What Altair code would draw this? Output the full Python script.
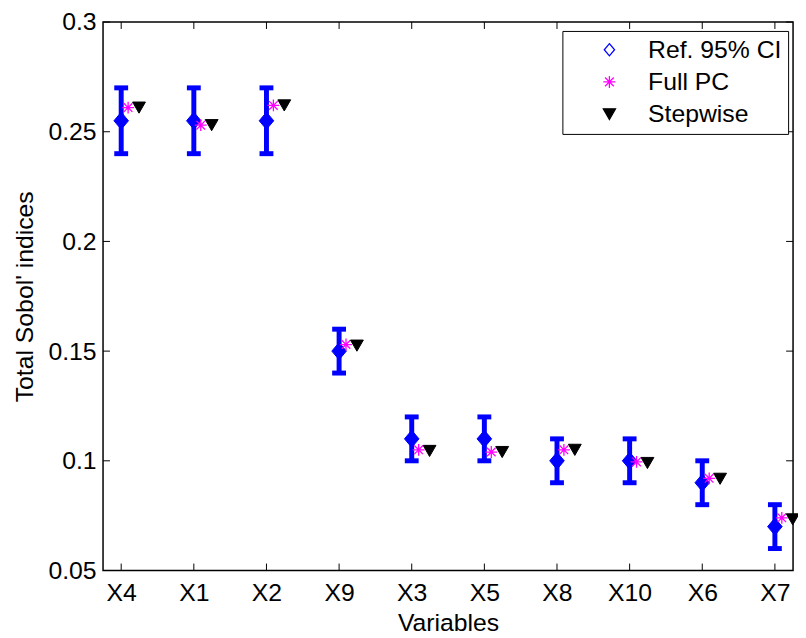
import altair as alt
import pandas as pd

# ---- data ----
variables = ["X4", "X1", "X2", "X9", "X3", "X5", "X8", "X10", "X6", "X7"]
ref_mean = [0.255, 0.255, 0.255, 0.150, 0.110, 0.110, 0.100, 0.100, 0.090, 0.070]
ref_lo = [0.240, 0.240, 0.240, 0.140, 0.100, 0.100, 0.090, 0.090, 0.080, 0.060]
ref_hi = [0.270, 0.270, 0.270, 0.160, 0.120, 0.120, 0.110, 0.110, 0.100, 0.080]
full_pc = [0.261, 0.253, 0.262, 0.153, 0.105, 0.104, 0.105, 0.0995, 0.092, 0.074]
stepwise = [0.261, 0.253, 0.262, 0.1525, 0.1045, 0.104, 0.105, 0.099, 0.0918, 0.0733]
y_ticks = [0.05, 0.1, 0.15, 0.2, 0.25, 0.3]
series_names = ["Ref. 95% CI", "Full PC", "Stepwise"]

df = pd.DataFrame({
    "var": variables, "mean": ref_mean, "lo": ref_lo, "hi": ref_hi,
    "full": full_pc, "step": stepwise,
    "s_full": series_names[1], "s_step": series_names[2],
})
ticks_df = pd.DataFrame({"v": y_ticks})

W, H = 697, 554
FONT = "Liberation Sans, Arial, Helvetica, sans-serif"
DIAMOND = "M0,-1L0.85,0L0,1L-0.85,0Z"
ASTER = "M-1,0L1,0M0,-1L0,1M-0.72,-0.72L0.72,0.72M-0.72,0.72L0.72,-0.72"
BLUE, MAGENTA = "#0000ff", "#ff00ff"

xscale = alt.Scale(type="point", domain=variables, padding=0.25)
yscale = alt.Scale(domain=[0.05, 0.3], nice=False, zero=False)

x_axis = alt.Axis(title="Variables", labelAngle=0, ticks=False, tickSize=0, domain=False,
                  grid=False, labelPadding=10, titleY=61, titleBaseline="alphabetic")
y_axis = alt.Axis(title="Total Sobol' indices", values=y_ticks, format="~g", ticks=False,
                  tickSize=0, domain=False, grid=False, labelPadding=7, titleX=-71,
                  titleY=H / 2, titleAngle=270, titleBaseline="alphabetic", titleAlign="center")

X = alt.X("var:N", scale=xscale, sort=variables, axis=x_axis)

def Y(field):
    return alt.Y(field, scale=yscale, axis=y_axis)

legend = alt.Legend(title=None, orient="none", legendX=464, legendY=9, padding=6.5,
                    symbolOffset=28.5, labelOffset=26.5, rowPadding=6.5, symbolSize=150,
                    symbolStrokeWidth=1.3, labelFontSize=25, labelFont=FONT,
                    labelColor="black", fillColor="white", strokeColor="black",
                    labelLimit=400)
shape_scale = alt.Scale(domain=series_names, range=[DIAMOND, ASTER, "triangle-down"])
stroke_scale = alt.Scale(domain=series_names, range=[BLUE, MAGENTA, "#000000"])
fill_scale = alt.Scale(domain=series_names, range=["#ffffff", MAGENTA, "#000000"])

base = alt.Chart(df)

# inward ticks on all four sides
left_ticks = alt.Chart(ticks_df).mark_rule(color="black", strokeWidth=1).encode(
    y=Y("v:Q"), x=alt.value(0), x2=alt.value(7))
right_ticks = alt.Chart(ticks_df).mark_rule(color="black", strokeWidth=1).encode(
    y=Y("v:Q"), x=alt.value(W), x2=alt.value(W - 7))
bottom_ticks = base.mark_rule(color="black", strokeWidth=1).encode(
    x=X, y=alt.value(H), y2=alt.value(H - 7))
top_ticks = base.mark_rule(color="black", strokeWidth=1).encode(
    x=X, y=alt.value(0), y2=alt.value(7))

bars = base.mark_rule(color=BLUE, strokeWidth=5).encode(x=X, y=Y("lo:Q"), y2="hi:Q")
cap_lo = base.mark_tick(color=BLUE, size=14, thickness=5, opacity=1).encode(x=X, y=Y("lo:Q"))
cap_hi = base.mark_tick(color=BLUE, size=14, thickness=5, opacity=1).encode(x=X, y=Y("hi:Q"))
diamonds = base.mark_point(shape=DIAMOND, filled=True, size=300, color=BLUE,
                           stroke=BLUE, strokeWidth=1, opacity=1).encode(x=X, y=Y("mean:Q"))

stars = base.mark_point(filled=True, size=144, xOffset=7, strokeWidth=1.3, opacity=1).encode(
    x=X, y=Y("full:Q"),
    shape=alt.Shape("s_full:N", scale=shape_scale, legend=legend),
    stroke=alt.Stroke("s_full:N", scale=stroke_scale, legend=legend),
    fill=alt.Fill("s_full:N", scale=fill_scale, legend=legend),
)
tris = base.mark_point(filled=True, size=169, xOffset=18, strokeWidth=1, opacity=1).encode(
    x=X, y=Y("step:Q"),
    shape=alt.Shape("s_step:N", scale=shape_scale, legend=legend),
    stroke=alt.Stroke("s_step:N", scale=stroke_scale, legend=legend),
    fill=alt.Fill("s_step:N", scale=fill_scale, legend=legend),
)

chart = alt.layer(
    left_ticks, right_ticks, bottom_ticks, top_ticks,
    bars, cap_lo, cap_hi, diamonds, stars, tris,
).properties(
    width=W, height=H,
    background="white",
    autosize=alt.AutoSizeParams(type="none"),
    padding={"left": 96, "top": 11, "right": 5, "bottom": 65},
).configure_view(
    stroke="black", strokeWidth=1.5
).configure_axis(
    labelFont=FONT, titleFont=FONT, labelFontSize=25, titleFontSize=25,
    titleFontWeight="normal", labelColor="black", titleColor="black",
)

chart.save("out.html", embed_options={"renderer": "svg", "actions": False})
